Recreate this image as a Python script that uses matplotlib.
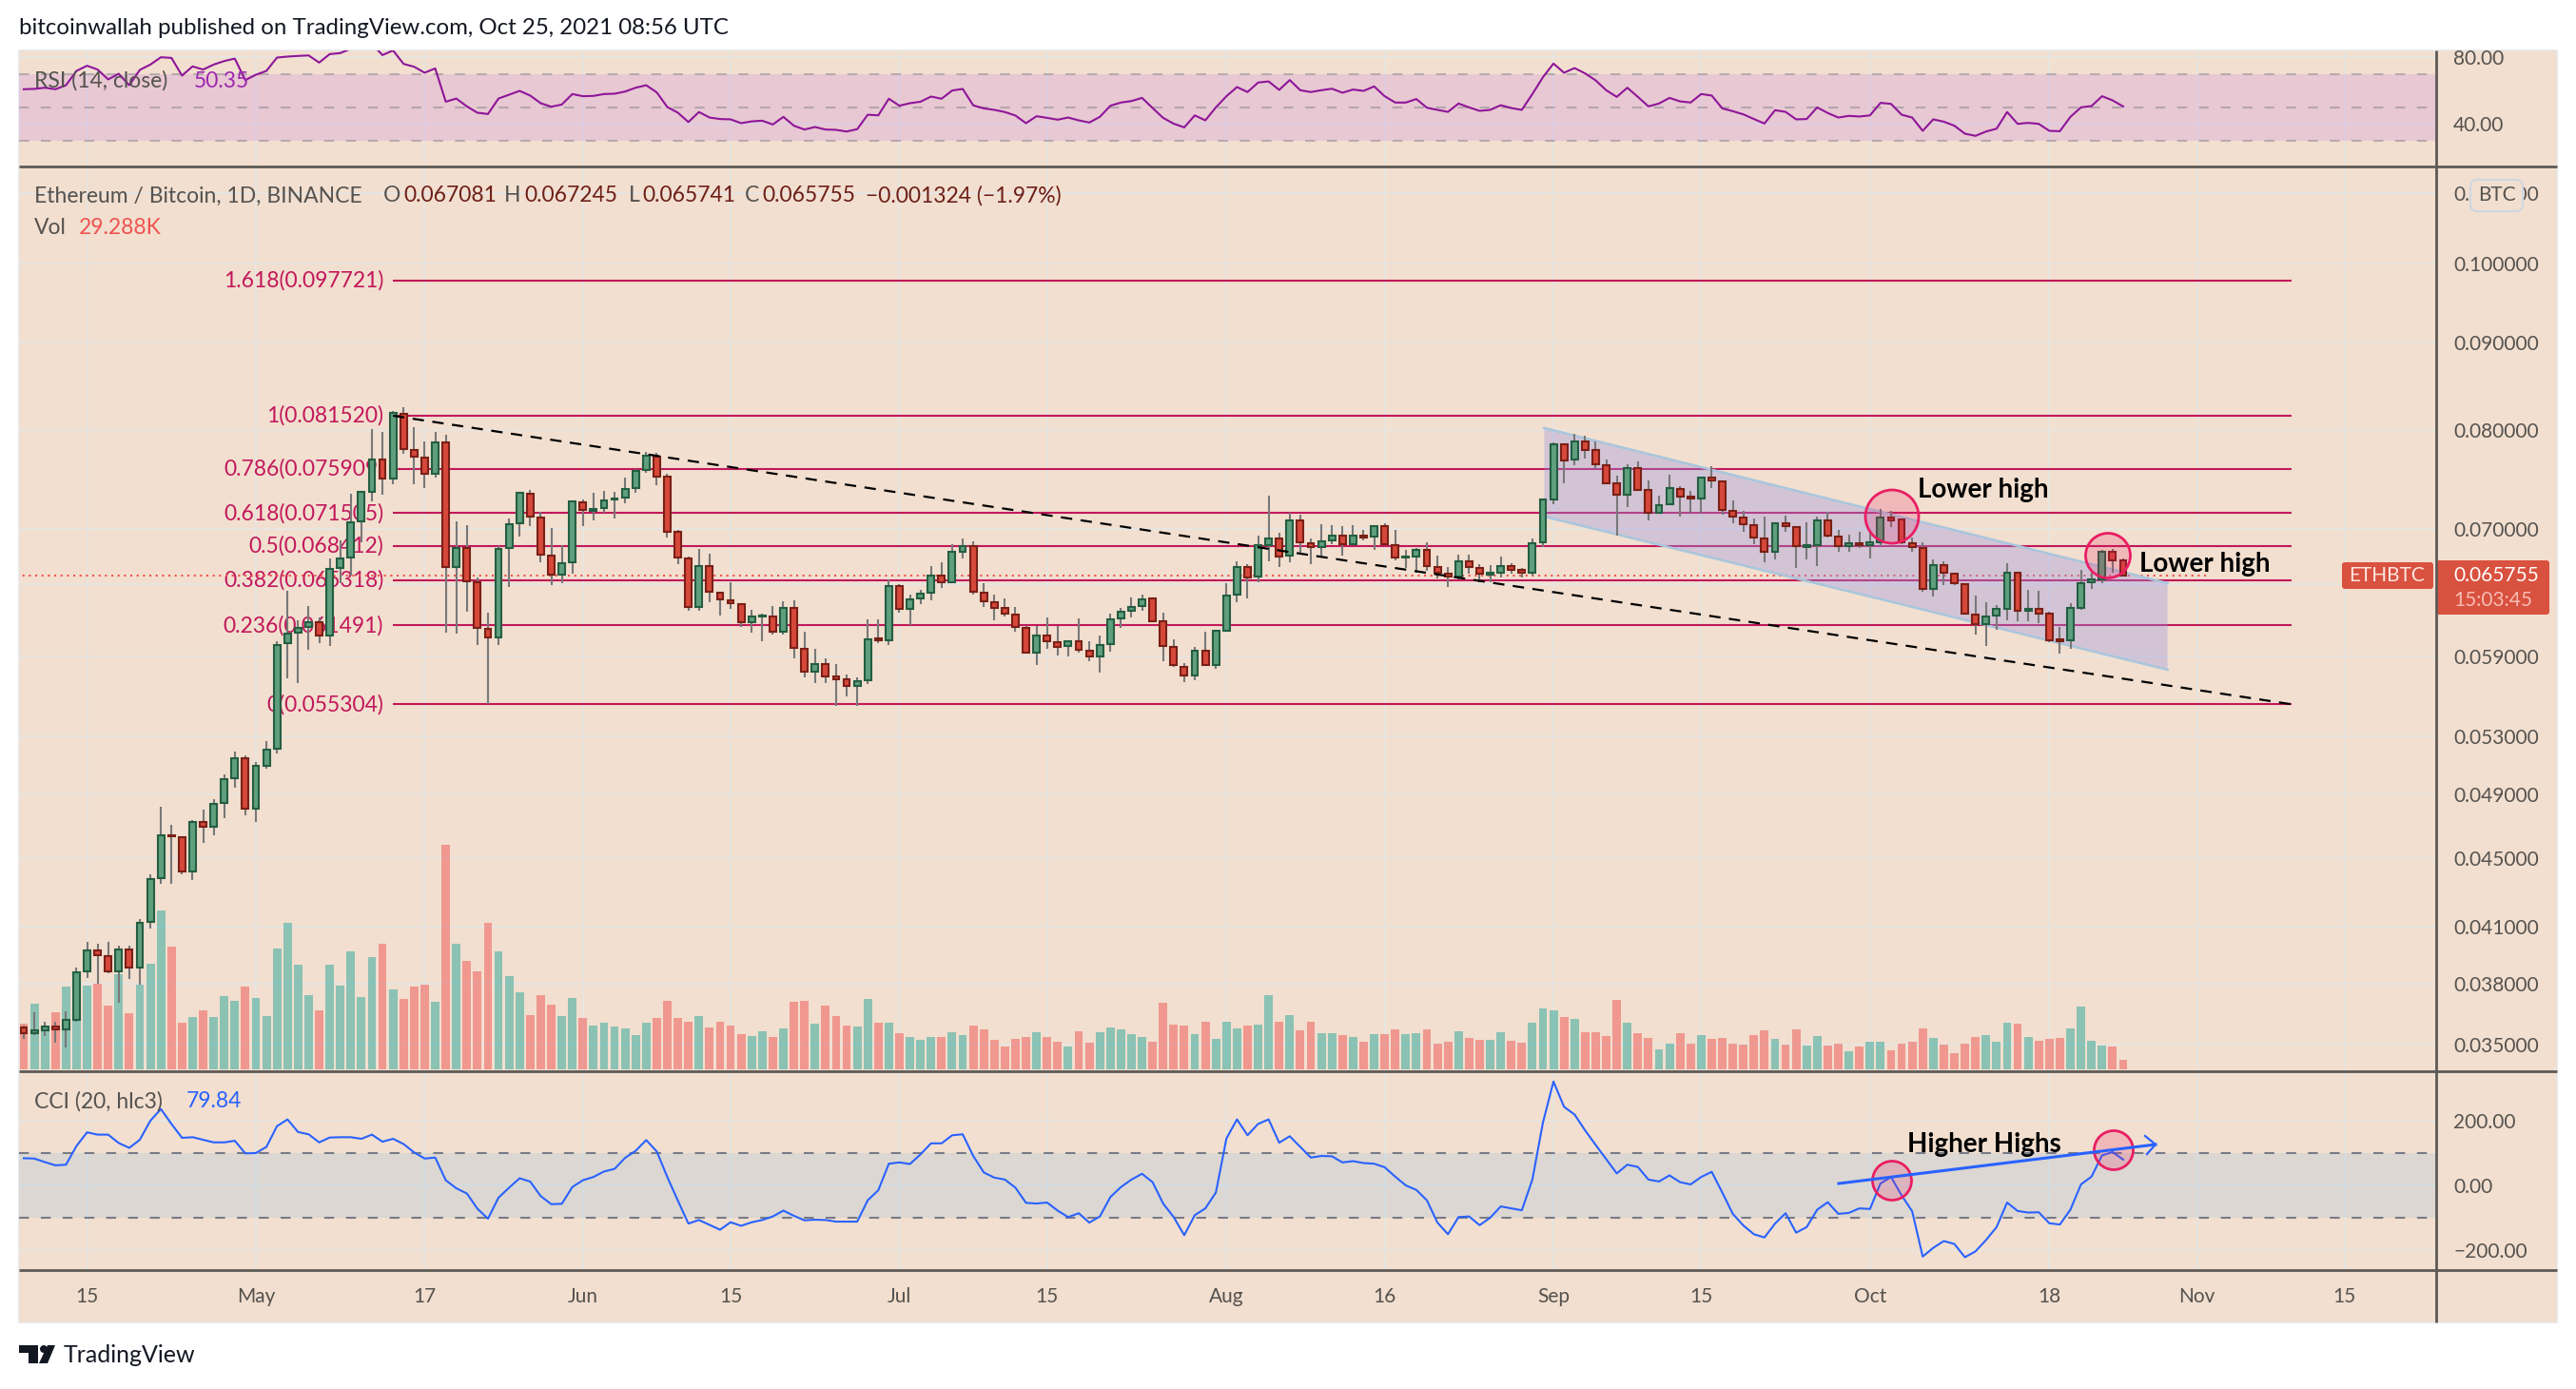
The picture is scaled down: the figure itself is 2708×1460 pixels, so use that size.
import numpy as np
import pandas as pd
import matplotlib
matplotlib.use('Agg')
import matplotlib.pyplot as plt
import matplotlib.dates as mdates
from matplotlib.patches import Ellipse, FancyBboxPatch, Polygon, Rectangle, Circle

plt.rcParams['font.family'] = ['Lato', 'DejaVu Sans']

W, H = 2708, 1460

dates = pd.date_range('2021-04-09', periods=200)

opens = [
    .03581, .03555, .03568, .03585, .03574, .03617, .03863, .03975, .03943, .03863,
    .03979, .03882, .04128, .04378, .04636, .04626, .04420, .04722, .04692, .04843,
    .05008, .05145, .04807, .05092, .05211, .06005, .06090, .06137, .06176, .06067,
    .06644, .06738, .07073, .07359, .07686, .07492, .08173, .07785, .07706, .07540,
    .07865, .06652, .06825, .06517, .06121, .06051, .06825, .07055, .07340, .07110,
    .06755, .06584, .06695, .07257, .07174, .07201, .07284, .07303, .07397, .07579,
    .07716, .07511, .06974, .06729, .06304, .06661, .06426, .06361, .06329, .06176,
    .06224, .06224, .06098, .06296, .05960, .05780, .05839, .05743, .05721, .05670,
    .05714, .06043, .06028, .06484, .06288, .06377, .06426, .06576, .06517, .06790,
    .06842, .06426, .06345, .06296, .06240, .06129, .05929, .06067, .06013, .05983,
    .06021, .05945, .05899, .05998, .06208, .06272, .06312, .06377, .06184, .05975,
    .05817, .05750, .05945, .05832, .06106, .06410, .06652, .06567, .06851, .06912,
    .06755, .07082, .06868, .06833, .06895, .06939, .06860, .06939, .06930, .07028,
    .06851, .06738, .06746, .06807, .06652, .06593, .06567, .06703, .06644, .06584,
    .06601, .06661, .06627, .06601, .06877, .07284, .07845, .07686, .07876, .07785,
    .07628, .07444, .07331, .07599, .07378, .07155, .07238, .07387, .07312, .07294,
    .07502, .07463, .07174, .07110, .07037, .06912, .06790, .07055, .07019, .06833,
    .06851, .07082, .06930, .06842, .06868, .06851, .06877, .07110, .07091, .06868,
    .06825, .06459, .06669, .06593, .06501, .06240, .06161, .06232, .06288, .06601,
    .06272, .06288, .06248, .06036, .06028, .06296, .06517, .06542, .06790, .067081]

closes = [
    .03555, .03568, .03588, .03574, .03618, .03859, .03975, .03946, .03863, .03979,
    .03882, .04124, .04375, .04636, .04629, .04420, .04722, .04692, .04838, .05002,
    .05145, .04807, .05092, .05204, .05990, .06082, .06129, .06176, .06067, .06635,
    .06729, .07064, .07359, .07686, .07492, .08183, .07795, .07716, .07540, .07865,
    .06652, .06825, .06526, .06129, .06051, .06816, .07046, .07349, .07119, .06764,
    .06584, .06686, .07266, .07183, .07192, .07275, .07294, .07387, .07570, .07726,
    .07511, .06974, .06738, .06304, .06661, .06435, .06369, .06337, .06176, .06224,
    .06232, .06098, .06296, .05967, .05780, .05839, .05743, .05721, .05670, .05706,
    .06036, .06028, .06484, .06288, .06369, .06418, .06576, .06517, .06790, .06842,
    .06435, .06353, .06296, .06248, .06137, .05929, .06067, .06021, .05975, .06021,
    .05952, .05899, .05990, .06200, .06264, .06304, .06369, .06184, .05983, .05832,
    .05750, .05945, .05832, .06106, .06402, .06652, .06559, .06851, .06912, .06746,
    .07082, .06877, .06833, .06886, .06939, .06860, .06939, .06921, .07028, .06860,
    .06738, .06746, .06807, .06661, .06601, .06567, .06703, .06652, .06593, .06601,
    .06661, .06627, .06601, .06868, .07284, .07845, .07677, .07876, .07785, .07638,
    .07444, .07331, .07599, .07378, .07155, .07229, .07397, .07312, .07294, .07502,
    .07473, .07183, .07119, .07046, .06921, .06790, .07055, .07028, .06842, .06851,
    .07082, .06939, .06842, .06868, .06851, .06877, .07110, .07082, .06877, .06833,
    .06459, .06669, .06601, .06509, .06248, .06161, .06224, .06288, .06601, .06272,
    .06288, .06248, .06028, .06021, .06296, .06509, .06542, .06790, .06712, .065755]

highs = [
    .03593, .03657, .03609, .03609, .03659, .03884, .04019, .04008, .04019, .03997,
    .03997, .04144, .04399, .04817, .04702, .04626, .04732, .04799, .04866, .05034,
    .05191, .05165, .05118, .05264, .06021, .06443, .06192, .06312, .06216, .06729,
    .06895, .07340, .07359, .08007, .07976, .08204, .08247, .08028, .07876, .07976,
    .07947, .07073, .07037, .06559, .06256, .06842, .07100, .07359, .07378, .07164,
    .07010, .06851, .07275, .07284, .07349, .07368, .07359, .07502, .07589, .07765,
    .07755, .07540, .06992, .06746, .06816, .06773, .06426, .06517, .06337, .06280,
    .06248, .06312, .06353, .06361, .06098, .05960, .05884, .05839, .05757, .05736,
    .06200, .06200, .06542, .06501, .06410, .06451, .06661, .06695, .06860, .06912,
    .06886, .06509, .06410, .06377, .06304, .06145, .06145, .06216, .06145, .06028,
    .06208, .06021, .06067, .06248, .06296, .06385, .06410, .06377, .06256, .06036,
    .05847, .05975, .06098, .06106, .06509, .06703, .06678, .06939, .07321, .06965,
    .07155, .07137, .06912, .07046, .07037, .07028, .07037, .06992, .07037, .07055,
    .06992, .06807, .06825, .06877, .06755, .06652, .06764, .06764, .06678, .06669,
    .06746, .06686, .06644, .06912, .07284, .07865, .07845, .07957, .07937, .07876,
    .07686, .07521, .07638, .07667, .07473, .07321, .07531, .07416, .07368, .07502,
    .07618, .07473, .07275, .07174, .07100, .07119, .07064, .07128, .07028, .07064,
    .07119, .07164, .06992, .06948, .06974, .06965, .07192, .07174, .07091, .06921,
    .06877, .06721, .06703, .06601, .06509, .06402, .06345, .06320, .06686, .06610,
    .06451, .06443, .06264, .06137, .06337, .06627, .06618, .06807, .06816, .067245]

lows = [
    .03526, .03545, .03539, .03510, .03486, .03609, .03828, .03800, .03851, .03701,
    .03824, .03796, .04093, .04342, .04347, .04401, .04368, .04592, .04638, .04745,
    .04945, .04764, .04722, .05073, .05178, .05728, .05692, .05952, .06005, .05983,
    .06509, .06576, .06877, .07266, .07331, .07435, .07746, .07435, .07397, .07502,
    .06090, .06082, .06264, .05990, .05533, .05990, .06476, .06930, .07028, .06695,
    .06492, .06509, .06593, .07028, .07082, .07155, .07100, .07248, .07349, .07550,
    .07425, .06921, .06678, .06272, .06272, .06345, .06232, .06288, .06137, .06090,
    .06021, .06074, .06074, .05884, .05736, .05692, .05692, .05519, .05590, .05519,
    .05685, .06005, .05990, .06256, .06153, .06329, .06361, .06468, .06509, .06729,
    .06410, .06304, .06192, .06224, .06098, .05922, .05832, .05960, .05907, .05899,
    .05929, .05862, .05772, .05937, .06129, .06216, .06272, .06176, .05862, .05817,
    .05699, .05714, .05824, .05802, .06106, .06345, .06377, .06517, .06703, .06652,
    .06695, .06781, .06678, .06755, .06860, .06755, .06851, .06895, .06807, .06851,
    .06712, .06644, .06601, .06618, .06551, .06476, .06542, .06593, .06517, .06517,
    .06559, .06593, .06559, .06576, .06833, .07238, .07444, .07628, .07696, .07589,
    .07444, .06939, .07210, .07368, .07082, .07146, .07229, .07119, .07155, .07155,
    .07397, .07137, .07055, .06974, .06860, .06695, .06721, .06974, .06644, .06721,
    .06661, .06921, .06790, .06790, .06825, .06729, .06842, .07019, .06860, .06790,
    .06435, .06394, .06492, .06492, .06240, .06074, .05983, .06113, .06192, .06184,
    .06184, .06168, .06013, .05922, .05960, .06280, .06459, .06509, .06601, .065741]

volume_k = [
    141, 202, 135, 176, 255, 185, 258, 264, 196, 293,
    173, 261, 326, 489, 379, 144, 162, 182, 162, 226,
    211, 255, 219, 164, 372, 451, 323, 229, 182, 323,
    258, 364, 223, 346, 387, 247, 217, 255, 261, 208,
    692, 387, 334, 302, 451, 364, 287, 238, 168, 229,
    200, 164, 219, 159, 136, 144, 132, 126, 106, 144,
    159, 212, 159, 147, 165, 129, 147, 135, 108, 102,
    117, 99, 126, 207, 210, 141, 198, 165, 135, 132,
    216, 144, 144, 111, 99, 90, 99, 99, 114, 105,
    135, 123, 90, 69, 93, 99, 114, 99, 84, 69,
    117, 81, 114, 129, 123, 108, 99, 84, 204, 138,
    135, 108, 147, 93, 147, 126, 135, 138, 228, 147,
    168, 120, 147, 111, 111, 105, 99, 84, 108, 108,
    123, 108, 111, 123, 78, 84, 117, 96, 90, 90,
    114, 87, 81, 144, 189, 183, 162, 156, 114, 114,
    102, 213, 144, 111, 96, 63, 78, 111, 78, 105,
    93, 96, 78, 75, 105, 120, 93, 75, 123, 72,
    102, 72, 78, 57, 69, 84, 84, 60, 78, 84,
    126, 96, 75, 51, 78, 99, 105, 84, 144, 141,
    99, 87, 93, 96, 126, 195, 87, 72, 69, 29.288]

rsi = [
    60.7, 60.9, 61.6, 60.7, 63.1, 71.7, 74.8, 72.5, 66.6, 70,
    63.1, 72.3, 75.5, 79.9, 79.5, 68.9, 74.4, 72.5, 75.5, 77.6,
    79.1, 66.2, 69.4, 71.7, 79.7, 80.3, 80.7, 81, 76.7, 81.8,
    82.4, 85, 87, 88, 81.2, 84, 75.9, 74.2, 70.6, 73.2,
    53.2, 55.1, 50.4, 46.6, 45.8, 55.1, 57.4, 59.7, 56.9, 52.3,
    50.2, 51.5, 57.8, 56.5, 56.7, 57.8, 58, 59.3, 61.6, 63.1,
    58.8, 50, 46.6, 41, 47, 43.7, 42.8, 42.6, 40.3, 41.4,
    41.8, 39.5, 44.1, 38.8, 36.5, 38, 36.5, 36.3, 35.3, 36.7,
    45.4, 45, 55, 50.8, 52.3, 53.2, 56.3, 55, 59.9, 60.9,
    51, 49.2, 48.3, 47, 44.9, 40.3, 44.5, 43.5, 42.4, 43.7,
    42, 40.7, 44.1, 50.8, 52.7, 53.6, 55.5, 49.4, 43.5, 40,
    37.8, 45, 42, 49.8, 56.5, 62, 59, 64.7, 65.4, 60.3,
    66.2, 60.1, 59, 60.1, 61, 58.6, 60.5, 59.7, 62.4, 56.5,
    52.7, 52.7, 54.8, 49.6, 48.3, 47.1, 52.1, 49.8, 47.7, 48.3,
    51.1, 49.4, 48.3, 57.8, 67.9, 76.1, 70.6, 73.4, 70.2, 66,
    60.1, 56.1, 61.6, 56.1, 50.4, 52.1, 55.5, 53.4, 52.7, 57.8,
    56.9, 49.2, 47.5, 45.6, 42.8, 40.1, 48.1, 47.1, 42.6, 42.8,
    49.8, 46.4, 43.7, 44.7, 44.3, 45, 52.5, 51.9, 45.4, 43.7,
    35.7, 42.6, 41.2, 38.8, 34, 32.7, 35.3, 37, 47, 39.9,
    40.5, 39.9, 35.7, 35.5, 44.1, 49.8, 50.6, 56.5, 54, 50.35]

cci = [
    84, 83, 72, 62, 64, 122, 164, 157, 157, 131,
    116, 141, 200, 236, 190, 147, 149, 141, 133, 133,
    138, 99, 100, 119, 183, 204, 165, 158, 133, 148,
    149, 149, 144, 157, 135, 144, 128, 102, 83, 86,
    16, -9, -25, -72, -103, -38, -7, 22, 12, -33,
    -58, -57, -5, 16, 26, 43, 51, 85, 107, 140,
    105, 26, -47, -118, -107, -122, -137, -114, -125, -114,
    -107, -96, -78, -94, -108, -106, -107, -112, -112, -112,
    -46, -15, 67, 71, 66, 96, 130, 130, 155, 158,
    91, 40, 24, 18, -7, -54, -56, -53, -78, -98,
    -86, -115, -96, -36, -5, 18, 36, 10, -56, -98,
    -154, -92, -71, -22, 145, 204, 155, 190, 204, 132,
    152, 119, 86, 91, 90, 71, 75, 69, 67, 56,
    27, 0, -14, -46, -115, -151, -98, -96, -123, -100,
    -65, -71, -77, 18, 194, 321, 243, 219, 170, 125,
    81, 37, 64, 57, 18, 12, 31, 10, 3, 26,
    42, -22, -88, -124, -151, -161, -118, -86, -146, -129,
    -75, -52, -88, -85, -71, -73, 6, 26, -31, -80,
    -220, -193, -172, -181, -222, -204, -169, -129, -53, -79,
    -84, -83, -117, -121, -75, 3, 27, 93, 103, 79.84]

fib_levels = ['1.618', '1', '0.786', '0.618', '0.5', '0.382', '0.236', '0']
fib_prices = [0.097721, 0.081520, 0.075909, 0.071505, 0.068412, 0.065318, 0.061491, 0.055304]
fib_dates = pd.to_datetime(['2021-05-14', '2021-11-10'])

channel_dates = pd.to_datetime(['2021-08-31 03:00', '2021-10-29 05:00'])
channel_upper = [0.08018, 0.06509]
channel_lower = [0.07119, 0.05794]

last_price = 0.065755

price_ticks = [0.11, 0.10, 0.09, 0.08, 0.07, 0.065, 0.059, 0.053, 0.049, 0.045, 0.041, 0.038, 0.035]
rsi_ticks = [80, 40]
cci_ticks = [200, 0, -200]
month_ticks = pd.to_datetime(['2021-04-15', '2021-05-01', '2021-05-17', '2021-06-01', '2021-06-15',
                              '2021-07-01', '2021-07-15', '2021-08-01', '2021-08-16', '2021-09-01',
                              '2021-09-15', '2021-10-01', '2021-10-18', '2021-11-01', '2021-11-15'])
month_labels = ['15', 'May', '17', 'Jun', '15', 'Jul', '15', 'Aug', '16', 'Sep', '15', 'Oct', '18', 'Nov', '15']

BG = '#F2DFCF'
GRID = '#E8E4E0'
SEP = '#5D5955'
TXT = '#55524F'
FIB = '#C2185B'
FS = 15
FS_TXT = 16.5

x = mdates.date2num(dates)
x0 = mdates.date2num(pd.Timestamp('2021-05-01'))
xlim = (x0 - 22.45, x0 + 206.67)
o, h, l, c = map(np.array, (opens, highs, lows, closes))
up = c >= o

fig = plt.figure(figsize=(W / 100, H / 100), dpi=100, facecolor='white')


def pane(top, bottom, left=20, right=2561):
    a = fig.add_axes([left / W, 1 - bottom / H, (right - left) / W, (bottom - top) / H])
    a.patch.set_visible(False)
    for s in a.spines.values():
        s.set_visible(False)
    a.set_xlim(xlim)
    return a


def style_ticks(a, ticks, labels):
    a.yaxis.tick_right()
    a.set_yticks(ticks, labels)
    a.minorticks_off()
    a.tick_params(axis='y', length=0, pad=13, labelsize=FS, labelcolor=TXT)
    a.set_xticks(mdates.date2num(month_ticks))
    a.tick_params(axis='x', length=0, labelbottom=False)
    a.grid(True, color=GRID, lw=1.5, zorder=0)
    a.set_axisbelow(True)


# base background, in pixels
base = fig.add_axes([0, 0, 1, 1])
base.set_xlim(0, W)
base.set_ylim(H, 0)
base.axis('off')
base.add_patch(Rectangle((20, 53), 2668, 1337, fc=BG, ec='#E6E6E6', lw=1.2))

# RSI pane
ax_rsi = pane(53, 175)
ax_rsi.set_ylim(14.3, 84)
style_ticks(ax_rsi, rsi_ticks, [f'{t:.2f}' for t in rsi_ticks])
ax_rsi.axhspan(30, 70, color='#AF46E9', alpha=0.15, lw=0, zorder=1)
for lev in (70, 50, 30):
    ax_rsi.axhline(lev, color='#787B86', alpha=0.45, lw=1.5, ls=(0, (5, 6)), zorder=2)
ax_rsi.plot(x, rsi, color='#8E1599', lw=1.5, zorder=3)

# price pane: grid layer, volume layer, candles layer
ax_bg = pane(175, 1126)
ax_bg.set_yscale('log')
ax_bg.set_ylim(0.03377, 0.11397)
# the 0.065 label sits behind the last price box
style_ticks(ax_bg, price_ticks, ['' if t == 0.065 else f'{t:.6f}' for t in price_ticks])

ax_vol = pane(175, 1126)
ax_vol.set_ylim(-6, 2787)
ax_vol.axis('off')
vol_col = np.where(up, '#26A69A', '#EF5350')
ax_vol.bar(x, volume_k, width=0.8, color=vol_col, alpha=0.5, lw=0)

ax = pane(175, 1126)
ax.set_yscale('log')
ax.set_ylim(0.03377, 0.11397)
ax.axis('off')

fx = mdates.date2num(fib_dates)
for lev, p in zip(fib_levels, fib_prices):
    ax.plot(fx, [p, p], color=FIB, lw=1.5, zorder=2, solid_capstyle='butt')
    ax.annotate(f'{lev}({p:.6f})', (fx[0], p), xytext=(-10, 0), textcoords='offset pixels',
                ha='right', va='center', color=FIB, fontsize=FS_TXT, zorder=1.5)

ax.plot([x[0] - 0.7, x0 + 185], [last_price, last_price], color='#EF5350', lw=1.5, ls=(0, (1, 2.2)), zorder=2.5)

cx = mdates.date2num(channel_dates)
ax.add_patch(Polygon([(cx[0], channel_upper[0]), (cx[1], channel_upper[1]),
                      (cx[1], channel_lower[1]), (cx[0], channel_lower[0])],
                     closed=True, fc='#9792E3', alpha=0.35, lw=0, zorder=3))
ax.plot(cx, channel_upper, color='#A9C6DC', lw=1.8, zorder=3.1)
ax.plot(cx, channel_lower, color='#A9C6DC', lw=1.8, zorder=3.1)

ax.vlines(x, l, h, color='#787878', lw=1.5, zorder=4)
body_bottom = np.minimum(o, c)
body_h = np.abs(c - o)
ax.bar(x, body_h, bottom=body_bottom, width=0.62,
       color=np.where(up, '#5F9F7E', '#D6483A'),
       edgecolor=np.where(up, '#245E42', '#7A2016'), lw=1.5, zorder=5)

ax.plot(fx, [fib_prices[1], fib_prices[-1]], color='black', lw=1.6, ls=(0, (5.4, 4)), zorder=6)

# CCI pane
ax_cci = pane(1126, 1335)
ax_cci.set_ylim(-261.8, 352.9)
style_ticks(ax_cci, cci_ticks, [f'{t:.2f}'.replace('-', '\u2212') for t in cci_ticks])
ax_cci.set_xticks(mdates.date2num(month_ticks), month_labels)
ax_cci.tick_params(axis='x', labelbottom=True, pad=13, labelsize=FS, labelcolor=TXT)
ax_cci.axhspan(-100, 100, color='#2196F3', alpha=0.1, lw=0, zorder=1)
for lev in (100, -100):
    ax_cci.axhline(lev, color='#787B86', lw=1.5, ls=(0, (5, 6)), zorder=2)
ax_cci.plot(x, cci, color='#2962FF', lw=1.5, zorder=3)

# overlay drawn in pixels: separators, labels, shapes
ov = fig.add_axes([0, 0, 1, 1])
ov.set_xlim(0, W)
ov.set_ylim(H, 0)
ov.axis('off')
ov.patch.set_visible(False)

for yy in (175, 1126, 1335):
    ov.plot([20, 2688], [yy, yy], color=SEP, lw=2, solid_capstyle='butt')
ov.plot([2561, 2561], [53, 1390], color=SEP, lw=2, solid_capstyle='butt')

for cxy, wd in (((1989, 543), 56), ((2216, 584), 47), ((1989, 1241), 41), ((2222, 1209), 41)):
    ov.add_patch(Ellipse(cxy, wd, wd, fc=(0.91, 0.12, 0.39, 0.2), ec='#E91E63', lw=2))

ov.plot([1933, 2266], [1244, 1203], color='#2962FF', lw=2.2)
ov.plot([2255, 2266, 2257], [1194, 1203, 1213], color='#2962FF', lw=1.6)

hand = dict(color='black', fontsize=20, fontweight='bold', va='center')
ov.text(2016, 515, 'Lower high', **hand)
ov.text(2249, 593, 'Lower high', **hand)
ov.text(2005, 1203, 'Higher Highs', **hand)

ov.add_patch(FancyBboxPatch((2462, 591), 96, 28, boxstyle='round,pad=0,rounding_size=3', fc='#D9513F', lw=0))
ov.add_patch(FancyBboxPatch((2561, 589), 119, 57, boxstyle='round,pad=0,rounding_size=3', fc='#D9513F', lw=0))
ov.text(2509, 605, 'ETHBTC', color='#FBE6E0', fontsize=FS, ha='center', va='center')
ov.text(2579, 605, f'{last_price:.6f}', color='white', fontsize=FS, va='center')
ov.text(2579, 631, '15:03:45', color='#F6BDB4', fontsize=FS, va='center')

ov.add_patch(FancyBboxPatch((2597, 189), 55, 33, boxstyle='round,pad=0,rounding_size=7', fc=BG, ec='#CFD6E2', lw=1.5))
ov.text(2624.5, 205, 'BTC', color=TXT, fontsize=FS, ha='center', va='center')

ov.text(20, 30, 'bitcoinwallah published on TradingView.com, Oct 25, 2021 08:56 UTC',
        color='#131722', fontsize=17.3, va='center')

ov.text(36, 85, 'RSI (14, close)', color=TXT, fontsize=FS_TXT, va='center')
ov.text(204, 85, '50.35', color='#9C27B0', fontsize=FS_TXT, va='center')

ov.text(36, 206, 'Ethereum / Bitcoin, 1D, BINANCE', color=TXT, fontsize=FS_TXT, va='center')
for xp, lab, xv, val in ((403, 'O', 424, '0.067081'), (530, 'H', 551, '0.067245'),
                         (661, 'L', 675, '0.065741'), (783, 'C', 801, '0.065755')):
    ov.text(xp, 206, lab, color=TXT, fontsize=FS_TXT, va='center')
    ov.text(xv, 206, val, color='#6E1F18', fontsize=FS_TXT, va='center')
ov.text(910, 206, '\u22120.001324 (\u22121.97%)', color='#6E1F18', fontsize=FS_TXT, va='center')

ov.text(36, 240, 'Vol', color=TXT, fontsize=FS_TXT, va='center')
ov.text(83, 240, '29.288K', color='#EF5350', fontsize=FS_TXT, va='center')

ov.text(36, 1158, 'CCI (20, hlc3)', color=TXT, fontsize=FS_TXT, va='center')
ov.text(196, 1158, '79.84', color='#2962FF', fontsize=FS_TXT, va='center')

# logo
ov.add_patch(Polygon([(20, 1414), (40, 1414), (40, 1433), (30, 1433), (30, 1422), (20, 1422)], fc='#131722', lw=0))
ov.add_patch(Circle((46, 1418), 4, fc='#131722', lw=0))
ov.add_patch(Polygon([(50, 1414), (58, 1414), (50, 1433), (41, 1433)], fc='#131722', lw=0))
ov.text(67, 1425, 'TradingView', color='#131722', fontsize=18, va='center')

fig.savefig('out.png', dpi=100)
